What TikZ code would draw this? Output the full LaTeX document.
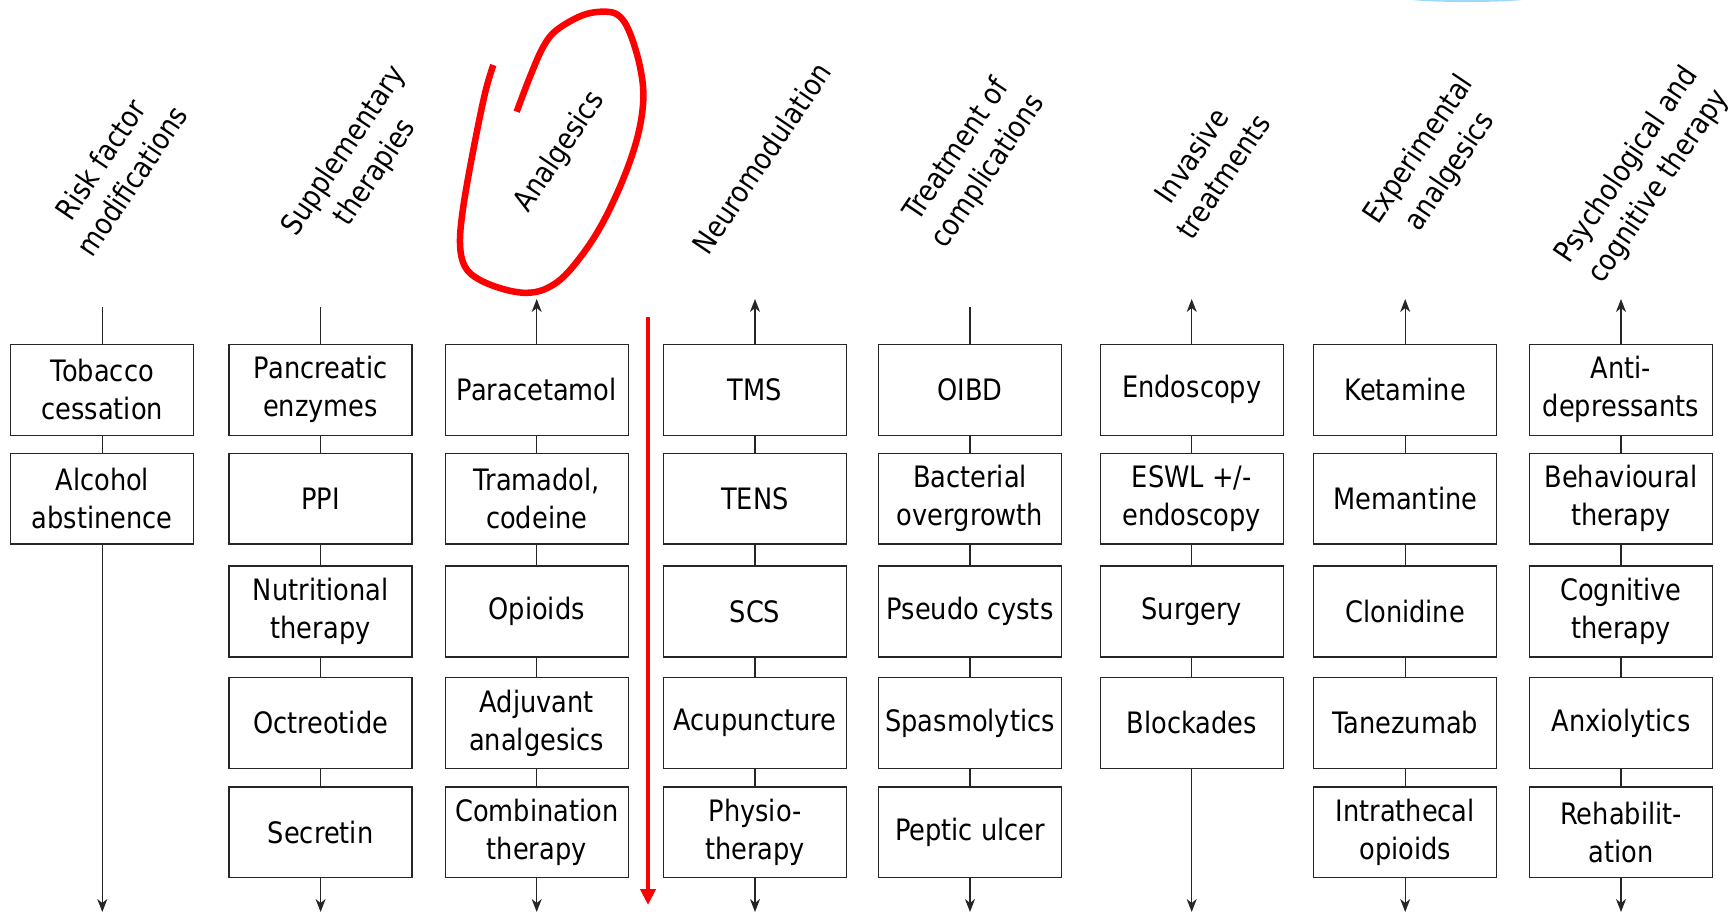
\documentclass[tikz,border=0pt]{standalone}
\usepackage{fontspec}
\usetikzlibrary{arrows.meta}
\newfontfamily\tf[FakeStretch=0.87]{DejaVu Sans}
\definecolor{markred}{RGB}{255,0,0}
\definecolor{smear}{RGB}{160,215,250}
\begin{document}
\begin{tikzpicture}[x=1pt,y=-1pt,
  box/.style={draw=black!85,line width=1.3pt,minimum width=183pt,minimum height=90.8pt,inner sep=2pt,align=center,font=\tf\fontsize{29.5}{38}\selectfont},
  hdr/.style={rotate=56,align=center,font=\tf\fontsize{29.5}{38}\selectfont},
  conn/.style={line width=1.3pt,draw=black!85},
  arr/.style={conn,-{Stealth[length=13pt,width=10pt,inset=4pt]}},
  loopline/.style={draw=markred,line width=6.5pt,line cap=butt,line join=round},
  redarrow/.style={draw=markred,line width=4pt,-{Triangle[length=16pt,width=15pt]}}
]
\useasboundingbox (0,0) rectangle (1733,914);
\fill[smear] (1467,-2) ellipse [x radius=64pt, y radius=4pt];

% column x positions
\def\xa{102.3}\def\xb{320.6}\def\xc{536.7}\def\xd{755}
\def\xe{970}\def\xf{1191.7}\def\xg{1405.2}\def\xh{1621}
% row y positions
\def\ya{389.8}\def\yb{498.6}\def\yc{611.5}\def\yd{722.9}\def\ye{832.4}

% headers
\node[hdr] (h1) at (116,170) {Risk factor\\modifications};
\node[hdr] (h2) at (360,162) {Supplementary\\therapies};
\node[hdr] (h3) at (560,152) {Analgesics};
\node[hdr] (h4) at (761.7,158.3) {Neuromodulation};
\node[hdr] (h5) at (973,161) {Treatment of\\complications};
\node[hdr] (h6) at (1207,166) {Invasive\\treatments};
\node[hdr] (h7) at (1435,161) {Experimental\\analgesics};
\node[hdr] (h8) at (1643,176) {Psychological and\\cognitive therapy};

% column 1
\node[box] (a1) at (\xa,\ya) {Tobacco\\cessation};
\node[box] (a2) at (\xa,\yb) {Alcohol\\abstinence};
% column 2
\node[box] (b1) at (\xb,\ya) {Pancreatic\\enzymes};
\node[box] (b2) at (\xb,\yb) {PPI};
\node[box] (b3) at (\xb,\yc) {Nutritional\\therapy};
\node[box] (b4) at (\xb,\yd) {Octreotide};
\node[box] (b5) at (\xb,\ye) {Secretin};
% column 3
\node[box] (c1) at (\xc,\ya) {Paracetamol};
\node[box] (c2) at (\xc,\yb) {Tramadol,\\codeine};
\node[box] (c3) at (\xc,\yc) {Opioids};
\node[box] (c4) at (\xc,\yd) {Adjuvant\\analgesics};
\node[box] (c5) at (\xc,\ye) {Combination\\therapy};
% column 4
\node[box] (d1) at (\xd,\ya) {TMS};
\node[box] (d2) at (\xd,\yb) {TENS};
\node[box] (d3) at (\xd,\yc) {SCS};
\node[box] (d4) at (\xd,\yd) {Acupuncture};
\node[box] (d5) at (\xd,\ye) {Physio-\\therapy};
% column 5
\node[box] (e1) at (\xe,\ya) {OIBD};
\node[box] (e2) at (\xe,\yb) {Bacterial\\overgrowth};
\node[box] (e3) at (\xe,\yc) {Pseudo cysts};
\node[box] (e4) at (\xe,\yd) {Spasmolytics};
\node[box] (e5) at (\xe,\ye) {Peptic ulcer};
% column 6
\node[box] (f1) at (\xf,\ya) {Endoscopy};
\node[box] (f2) at (\xf,\yb) {ESWL +/-\\endoscopy};
\node[box] (f3) at (\xf,\yc) {Surgery};
\node[box] (f4) at (\xf,\yd) {Blockades};
% column 7
\node[box] (g1) at (\xg,\ya) {Ketamine};
\node[box] (g2) at (\xg,\yb) {Memantine};
\node[box] (g3) at (\xg,\yc) {Clonidine};
\node[box] (g4) at (\xg,\yd) {Tanezumab};
\node[box] (g5) at (\xg,\ye) {Intrathecal\\opioids};
% column 8
\node[box] (k1) at (\xh,\ya) {Anti-\\depressants};
\node[box] (k2) at (\xh,\yb) {Behavioural\\therapy};
\node[box] (k3) at (\xh,\yc) {Cognitive\\therapy};
\node[box] (k4) at (\xh,\yd) {Anxiolytics};
\node[box] (k5) at (\xh,\ye) {Rehabilit-\\ation};

% top and bottom end points
\coordinate (ta) at (\xa,307); \coordinate (tb) at (\xb,307);
\coordinate (tc) at (\xc,299); \coordinate (td) at (\xd,299);
\coordinate (te) at (\xe,307); \coordinate (tf) at (\xf,299);
\coordinate (tg) at (\xg,299); \coordinate (th) at (\xh,299);
\coordinate (ba) at (\xa,912); \coordinate (bb) at (\xb,912);
\coordinate (bc) at (\xc,912); \coordinate (bd) at (\xd,912);
\coordinate (be) at (\xe,912); \coordinate (bf) at (\xf,912);
\coordinate (bg) at (\xg,912); \coordinate (bh) at (\xh,912);

% top lines
\draw[conn] (a1.north) -- (ta);
\draw[conn] (b1.north) -- (tb);
\draw[conn] (e1.north) -- (te);
\draw[arr] (c1.north) -- (tc);
\draw[arr] (d1.north) -- (td);
\draw[arr] (f1.north) -- (tf);
\draw[arr] (g1.north) -- (tg);
\draw[arr] (k1.north) -- (th);

% links between boxes
\draw[conn] (a1) -- (a2);
\foreach \c in {b,c,d,e,g,k}{
  \draw[conn] (\c1) -- (\c2);
  \draw[conn] (\c2) -- (\c3);
  \draw[conn] (\c3) -- (\c4);
  \draw[conn] (\c4) -- (\c5);
}
\draw[conn] (f1) -- (f2);
\draw[conn] (f2) -- (f3);
\draw[conn] (f3) -- (f4);

% bottom arrows
\draw[arr] (a2.south) -- (ba);
\draw[arr] (b5.south) -- (bb);
\draw[arr] (c5.south) -- (bc);
\draw[arr] (d5.south) -- (bd);
\draw[arr] (e5.south) -- (be);
\draw[arr] (f4.south) -- (bf);
\draw[arr] (g5.south) -- (bg);
\draw[arr] (k5.south) -- (bh);

% red annotations
\draw[loopline] plot[smooth, tension=0.6] coordinates {
 (493.3,65) (485,93.3) (473.3,150) (463.3,206.7) (460,243.3) (465,266.7)
 (480,280) (506.7,290) (530,292.7) (550,286.7) (570,270) (596.7,233.3)
 (620,186.7) (636.7,140) (643.3,100) (640,66.7) (630,33.3) (620,16.7)
 (606.7,11.7) (583.3,15) (556.7,30) (543.3,46.7) (530,76.7) (516.7,111.7)};
\coordinate (rtop) at (648,317);
\coordinate (rbot) at (648,905);
\draw[redarrow] (rtop) -- (rbot);
\end{tikzpicture}
\end{document}
